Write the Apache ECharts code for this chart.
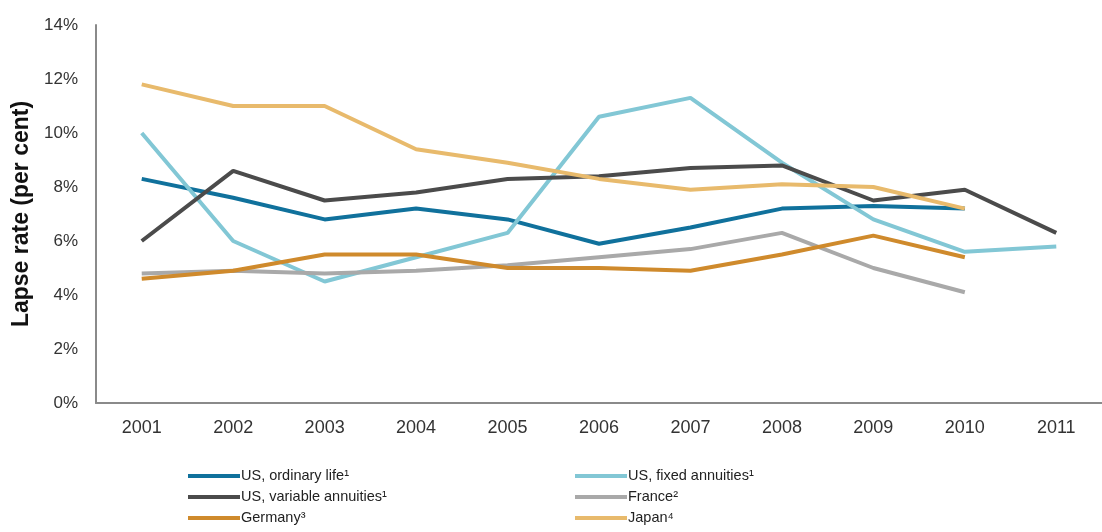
<!DOCTYPE html>
<html>
<head>
<meta charset="utf-8">
<script src="https://cdn.jsdelivr.net/npm/echarts@6/dist/echarts.min.js"></script>
<style>
  html, body { margin: 0; padding: 0; background: #fff; }
  #chart { width: 1102px; height: 532px; }
</style>
</head>
<body>
<div id="chart"></div>
<script>
// 年份
const years = ['2001', '2002', '2003', '2004', '2005', '2006', '2007', '2008', '2009', '2010', '2011'];
// 各系列数据 (%)
const usOrdinary = [8.3, 7.6, 6.8, 7.2, 6.8, 5.9, 6.5, 7.2, 7.3, 7.2, null];
const usFixed = [10.0, 6.0, 4.5, 5.4, 6.3, 10.6, 11.3, 8.9, 6.8, 5.6, 5.8];
const usVariable = [6.0, 8.6, 7.5, 7.8, 8.3, 8.4, 8.7, 8.8, 7.5, 7.9, 6.3];
const france = [4.8, 4.9, 4.8, 4.9, 5.1, 5.4, 5.7, 6.3, 5.0, 4.1, null];
const germany = [4.6, 4.9, 5.5, 5.5, 5.0, 5.0, 4.9, 5.5, 6.2, 5.4, null];
const japan = [11.8, 11.0, 11.0, 9.4, 8.9, 8.3, 7.9, 8.1, 8.0, 7.2, null];
// 图例名称
const names = ['US, ordinary life¹', 'US, fixed annuities¹', 'US, variable annuities¹', 'France²', 'Germany³', 'Japan⁴'];

const chart = echarts.init(document.getElementById('chart'));

const font = 'Liberation Sans, Arial, sans-serif';

function line(name, data, color) {
    return {
        name: name,
        type: 'line',
        data: data,
        symbol: 'none',
        lineStyle: { color: color, width: 4 },
        itemStyle: { color: color }
    };
}

const legendBase = {
    orient: 'vertical',
    top: 467,
    padding: 0,
    itemWidth: 52,
    itemHeight: 4,
    itemGap: 3,
    icon: 'rect',
    textStyle: { fontFamily: font, fontSize: 14.5, lineHeight: 18, color: '#222', padding: [0, 0, 0, -4] }
};

const option = {
    animation: false,
    grid: { left: 96, right: -7, top: 25, bottom: 129 },
    legend: [
        Object.assign({ left: 188, data: [names[0], names[2], names[4]] }, legendBase),
        Object.assign({ left: 575, data: [names[1], names[3], names[5]] }, legendBase)
    ],
    xAxis: {
        type: 'category',
        data: years,
        boundaryGap: true,
        axisLine: { lineStyle: { color: '#8a8a8a', width: 2 } },
        axisTick: { show: false },
        axisLabel: { fontFamily: font, fontSize: 18, color: '#333', margin: 16 }
    },
    yAxis: {
        type: 'value',
        min: 0,
        max: 14,
        interval: 2,
        name: 'Lapse rate (per cent)',
        nameLocation: 'middle',
        nameGap: 60,
        nameTextStyle: { fontFamily: font, fontSize: 23, fontWeight: 'bold', color: '#111' },
        axisLine: { show: true, lineStyle: { color: '#8a8a8a', width: 2 } },
        axisTick: { show: false },
        splitLine: { show: false },
        axisLabel: { fontFamily: font, fontSize: 17, color: '#333', margin: 18, formatter: '{value}%' }
    },
    series: [
        line(names[0], usOrdinary, '#10719c'),
        line(names[1], usFixed, '#82c7d5'),
        line(names[2], usVariable, '#4b4b4b'),
        line(names[3], france, '#a9a9a9'),
        line(names[4], germany, '#cf8a2c'),
        line(names[5], japan, '#e8ba6c')
    ]
};

chart.setOption(option);
</script>
</body>
</html>
